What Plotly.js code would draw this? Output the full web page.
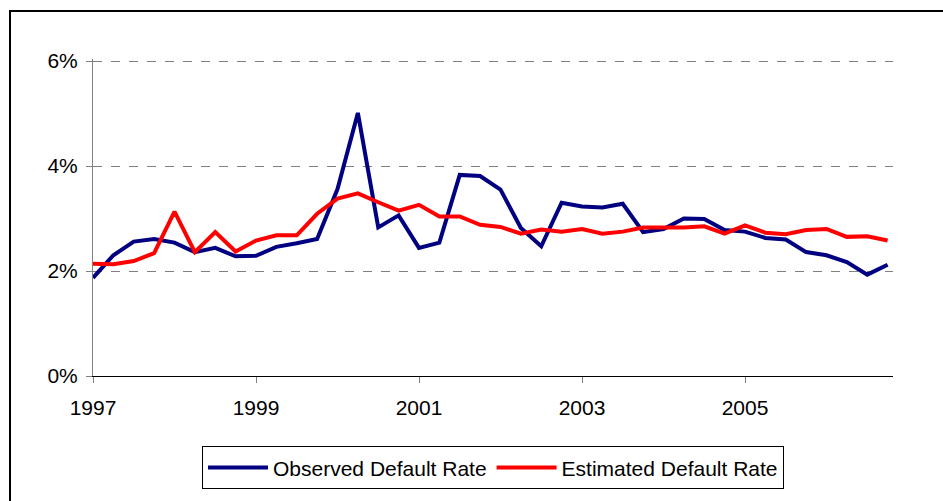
<!DOCTYPE html>
<html>
<head>
<meta charset="utf-8">
<script src="https://cdn.plot.ly/plotly-3.0.1.min.js"></script>
<style>
  html, body { margin: 0; padding: 0; background: #fff; }
  #wrap { position: relative; width: 943px; height: 501px; overflow: hidden; }
  #chart { width: 943px; height: 501px; }
  #frame { position: absolute; left: 9px; top: 10px; width: 1000px; height: 600px;
           border-left: 2.5px solid #000; border-top: 2.5px solid #000; pointer-events: none; }
</style>
</head>
<body>
<div id="wrap">
  <div id="chart"></div>
  <div id="frame"></div>
</div>
<script>
// Quarterly observations, 1997 Q1 .. 2006 Q4
const years = [1997, 1998, 1999, 2000, 2001, 2002, 2003, 2004, 2005, 2006];
const quarterOffsets = [0, 0.25, 0.5, 0.75];

// Default rates in percent
const observedDefaultRate = [
  1.87, 2.30, 2.56, 2.61, 2.54, 2.36, 2.44, 2.28, 2.29, 2.46,
  2.53, 2.61, 3.56, 5.01, 2.83, 3.06, 2.44, 2.54, 3.83, 3.81,
  3.55, 2.82, 2.47, 3.30, 3.23, 3.21, 3.28, 2.74, 2.80, 3.00,
  2.99, 2.78, 2.75, 2.63, 2.60, 2.36, 2.30, 2.17, 1.93, 2.12
];
const estimatedDefaultRate = [
  2.14, 2.13, 2.19, 2.34, 3.13, 2.36, 2.74, 2.37, 2.58, 2.68,
  2.68, 3.09, 3.38, 3.48, 3.31, 3.15, 3.26, 3.04, 3.04, 2.88,
  2.84, 2.71, 2.79, 2.75, 2.80, 2.71, 2.75, 2.83, 2.83, 2.83,
  2.85, 2.71, 2.87, 2.73, 2.70, 2.78, 2.80, 2.65, 2.66, 2.58
];
const xTickValues = [1997, 1999, 2001, 2003, 2005];
const xTickLabels = ['1997', '1999', '2001', '2003', '2005'];
const yTickValues = [0, 2, 4, 6];
const yTickLabels = ['0%', '2%', '4%', '6%'];
const seriesNames = ['Observed Default Rate', 'Estimated Default Rate'];

const periods = [];
years.forEach(y => quarterOffsets.forEach(q => periods.push(y + q)));

const font = { family: '"Liberation Sans", Arial, Helvetica, sans-serif', size: 21, color: '#000' };

const traces = [
  { x: periods, y: observedDefaultRate, name: seriesNames[0], type: 'scatter', mode: 'lines',
    line: { color: '#000080', width: 4 } },
  { x: periods, y: estimatedDefaultRate, name: seriesNames[1], type: 'scatter', mode: 'lines',
    line: { color: '#FF0000', width: 4 } }
];

const layout = {
  width: 943, height: 501,
  margin: { l: 93, r: 50, t: 59, b: 123 },
  paper_bgcolor: '#fff', plot_bgcolor: '#fff',
  font: font,
  showlegend: true,
  xaxis: {
    range: [1997, 2006.816],
    tickvals: xTickValues, ticktext: xTickLabels,
    showgrid: false, zeroline: false,
    showline: true, linecolor: '#000', linewidth: 1,
    ticks: 'outside', ticklen: 6, tickcolor: '#808080', tickwidth: 1,
    tickfont: font, ticklabelstandoff: 7
  },
  yaxis: {
    range: [0, 6.038],
    tickvals: yTickValues, ticktext: yTickLabels,
    showgrid: true, gridcolor: '#808080', gridwidth: 1, griddash: 'dash',
    zeroline: false,
    showline: true, linecolor: '#808080', linewidth: 1,
    ticks: 'outside', ticklen: 6, tickcolor: '#808080', tickwidth: 1,
    tickfont: font, ticklabelstandoff: 4
  },
  legend: {
    orientation: 'h', x: 0.5, xanchor: 'center', y: -0.222, yanchor: 'top',
    bordercolor: '#000', borderwidth: 1, bgcolor: '#fff', font: font,
    itemwidth: 60, tracegroupgap: 0
  }
};

Plotly.newPlot('chart', traces, layout, { displayModeBar: false, staticPlot: true });
</script>
</body>
</html>
